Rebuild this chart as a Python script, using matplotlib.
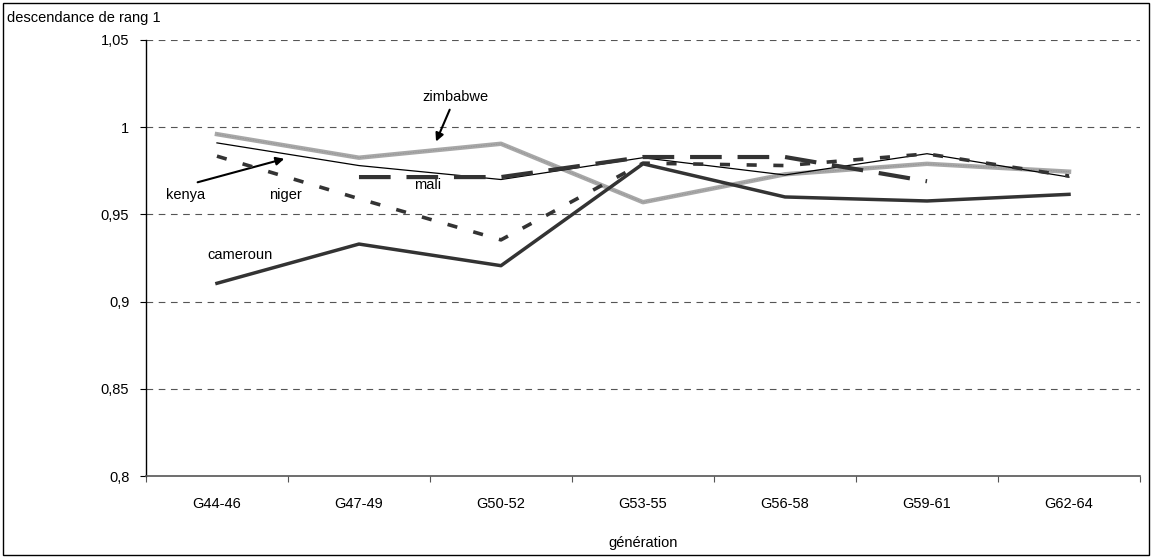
import numpy as np
import matplotlib
matplotlib.use('Agg')
import matplotlib.pyplot as plt
from matplotlib.ticker import FixedLocator, NullFormatter

plt.rcParams['font.family'] = ['Liberation Sans', 'DejaVu Sans']
plt.rcParams['font.size'] = 10.5

generations = ['G44-46', 'G47-49', 'G50-52', 'G53-55', 'G56-58', 'G59-61', 'G62-64']
kenya = [0.991, 0.978, 0.970, 0.9825, 0.9726, 0.9848, 0.9714]
zimbabwe = [0.996, 0.9825, 0.9905, 0.957, 0.973, 0.979, 0.9745]
cameroun = [0.9105, 0.933, 0.9206, 0.979, 0.960, 0.9577, 0.9615]
niger = [0.9834, 0.959, 0.9354, 0.9794, 0.978, 0.9847, 0.972]
mali = [np.nan, 0.9714, 0.9714, 0.9829, 0.9829, 0.969, np.nan]
yticks = [0.8, 0.85, 0.9, 0.95, 1.0, 1.05]
ylabels = ['0,8', '0,85', '0,9', '0,95', '1', '1,05']

fig = plt.figure(figsize=(11.52, 5.57), dpi=100)
ax = fig.add_axes([0.1267, 0.1454, 0.8629, 0.7828])

x = np.arange(len(generations))
dark = '#333333'
ax.plot(x, zimbabwe, color='#a8a8a8', lw=3.2, zorder=3)
ax.plot(x, zimbabwe, color='#8f8f8f', lw=0.6, ls=(0, (1, 1)), zorder=3)
ax.plot(x, kenya, color='black', lw=0.9, zorder=4)
ax.plot(x, cameroun, color=dark, lw=2.5, zorder=4)
ax.plot(x, niger, color=dark, lw=2.6, linestyle=(0, (2.8, 4.6)), zorder=4)
ax.plot(x, mali, color=dark, lw=3.0, linestyle=(0, (7.6, 3.8)), zorder=4)

ax.set_xlim(-0.5, len(generations) - 0.5)
ax.set_ylim(0.8, 1.05)
ax.set_yticks(yticks)
ax.set_yticklabels(ylabels)
ax.xaxis.set_major_locator(FixedLocator(np.arange(-0.5, len(generations), 1.0)))
ax.xaxis.set_major_formatter(NullFormatter())
ax.xaxis.set_minor_locator(FixedLocator(x))
ax.set_xticklabels(generations, minor=True)
ax.tick_params(axis='x', which='major', length=4, direction='out', color='#555555')
ax.tick_params(axis='x', which='minor', length=0, pad=15)
ax.tick_params(axis='y', length=4, direction='out', pad=8)

for v in yticks[1:]:
    ax.axhline(v, color='#555555', lw=0.8, ls=(0, (6, 5)), zorder=1)

ax.spines['top'].set_visible(False)
ax.spines['right'].set_visible(False)
ax.spines['left'].set_linewidth(1.0)
ax.spines['bottom'].set_color('#555555')
ax.spines['bottom'].set_linewidth(1.2)

ax.set_xlabel('génération', labelpad=18)
fig.text(0.006, 0.967, 'descendance de rang 1', ha='left', va='center')

# labels of the series
ax.text(-0.22, 0.9611, 'kenya', ha='center', va='center')
ax.text(0.479, 0.9611, 'niger', ha='center', va='center')
ax.text(1.486, 0.9669, 'mali', ha='center', va='center')
ax.text(0.162, 0.9269, 'cameroun', ha='center', va='center')
ax.annotate('', xy=(0.493, 0.9823), xytext=(-0.155, 0.968),
            arrowprops=dict(arrowstyle='-|>', color='black', lw=1.5, mutation_scale=12))
ax.annotate('zimbabwe', xy=(1.535, 0.9903), xytext=(1.676, 1.0171), ha='center', va='center',
            arrowprops=dict(arrowstyle='-|>', color='black', lw=1.5, mutation_scale=12))

border = plt.Rectangle((0.003, 0.004), 0.994, 0.99, transform=fig.transFigure,
                       fill=False, edgecolor='black', lw=1.0)
fig.patches.append(border)

fig.savefig('out.png', dpi=100)
